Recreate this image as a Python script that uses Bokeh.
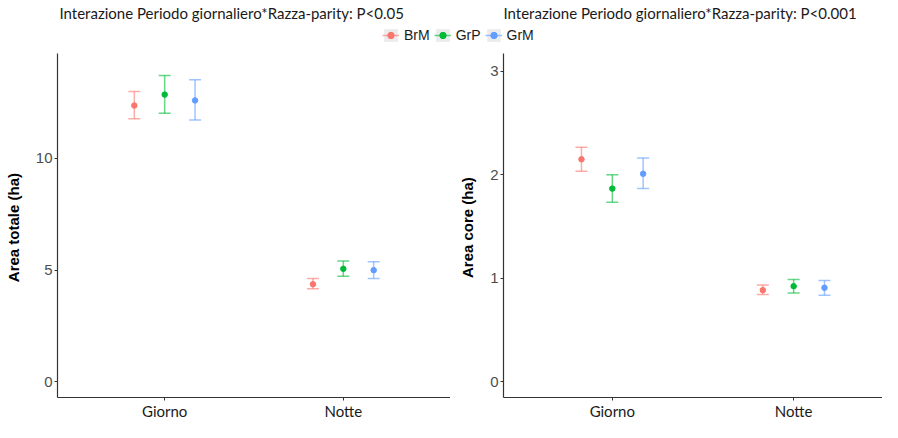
from bokeh.plotting import figure
from bokeh.models import (Range1d, FixedTicker, Whisker, TeeHead, ColumnDataSource,
                          Legend, LegendItem, Label)
from bokeh.transform import dodge
from bokeh.layouts import column, row
from bokeh.embed import file_html
from bokeh.resources import INLINE

# ---- data ----
periods = ["Giorno", "Notte"]
groups = ["BrM", "GrP", "GrM"]
colors = ["#F8766D", "#00BA38", "#619CFF"]
dodge_offsets = [-0.17, 0.0, 0.17]

tot_mean = {"BrM": [12.37, 4.37], "GrP": [12.86, 5.06], "GrM": [12.60, 5.00]}
tot_low = {"BrM": [11.78, 4.17], "GrP": [12.03, 4.73], "GrM": [11.72, 4.63]}
tot_high = {"BrM": [13.00, 4.63], "GrP": [13.72, 5.41], "GrM": [13.52, 5.38]}

core_mean = {"BrM": [2.149, 0.886], "GrP": [1.866, 0.924], "GrM": [2.009, 0.909]}
core_low = {"BrM": [2.034, 0.843], "GrP": [1.735, 0.858], "GrM": [1.866, 0.837]}
core_high = {"BrM": [2.264, 0.936], "GrP": [2.000, 0.989], "GrM": [2.161, 0.980]}

tot_ticks = [0, 5, 10]
core_ticks = [0, 1, 2, 3]

title_left = "Interazione Periodo giornaliero*Razza-parity: P<0.05"
title_right = "Interazione Periodo giornaliero*Razza-parity: P<0.001"
ylabel_left = "Area totale  (ha)"
ylabel_right = "Area core  (ha)"

AXIS_COL = "#333333"
TOP_H = 50
PANEL_H = 372


def panel(width, min_left, x_end, y_start, y_end, yticks, ylabel, mean, low, high):
    p = figure(width=width, height=PANEL_H, output_backend="svg", toolbar_location=None,
               x_range=Range1d(0.4, x_end), y_range=Range1d(y_start, y_end),
               min_border_left=min_left, min_border_right=0,
               min_border_top=3, min_border_bottom=20)
    p.grid.visible = False
    p.outline_line_color = None
    xs = list(range(1, len(periods) + 1))
    for g, c, off in zip(groups, colors, dodge_offsets):
        src = ColumnDataSource(dict(x=xs, mean=mean[g], low=low[g], high=high[g]))
        head_kw = dict(size=12, line_color=c, line_alpha=0.6, line_width=1.5)
        w = Whisker(base=dodge("x", off), upper="high", lower="low", source=src,
                    line_color=c, line_alpha=0.6, line_width=1.5,
                    upper_head=TeeHead(**head_kw), lower_head=TeeHead(**head_kw))
        p.add_layout(w)
        p.scatter(x=dodge("x", off), y="mean", source=src, size=5.5,
                  fill_color=c, line_color=c)
    # x axis
    p.xaxis.ticker = FixedTicker(ticks=xs)
    p.xaxis.major_label_overrides = {x: lab for x, lab in zip(xs, periods)}
    p.xaxis.major_label_text_font = "Lato"
    p.xaxis.major_label_text_font_size = "15px"
    p.xaxis.major_label_text_color = "#1a1a1a"
    p.xaxis.major_label_standoff = 1
    # y axis
    p.yaxis.ticker = FixedTicker(ticks=yticks)
    p.yaxis.major_label_text_font = "Liberation Sans"
    p.yaxis.major_label_text_font_size = "15px"
    p.yaxis.major_label_text_color = "#4d4d4d"
    p.yaxis.major_label_standoff = 2
    p.yaxis.axis_label = ylabel
    p.yaxis.axis_label_text_font = "Liberation Sans"
    p.yaxis.axis_label_text_font_size = "15px"
    p.yaxis.axis_label_text_font_style = "bold"
    p.yaxis.axis_label_text_color = "black"
    p.yaxis.axis_label_standoff = 11
    for ax in (p.xaxis, p.yaxis):
        ax.axis_line_color = AXIS_COL
        ax.axis_line_width = 1.2
        ax.major_tick_line_color = AXIS_COL
        ax.major_tick_out = 3
        ax.major_tick_in = 0
        ax.minor_tick_line_color = None
    return p


left = panel(450, 57, 2.6, -0.7, 14.7, tot_ticks, ylabel_left, tot_mean, tot_low, tot_high)
right = panel(432, 53, 2.49, -0.15, 3.17, core_ticks, ylabel_right, core_mean, core_low, core_high)

# ---- top strip: titles and legend ----
top = figure(width=882, height=TOP_H, x_range=Range1d(0, 882), y_range=Range1d(0, TOP_H),
             output_backend="svg", toolbar_location=None, min_border=0,
             x_axis_location=None, y_axis_location=None)
top.grid.visible = False
top.outline_line_color = None

for txt, xpos in ((title_left, 59), (title_right, 503)):
    top.add_layout(Label(x=xpos, y=TOP_H - 12, text=txt, text_baseline="middle",
                         text_font="Lato", text_font_size="15px", text_color="#1a1a1a"))

nan = float("nan")
items = []
for g, c in zip(groups, colors):
    bg = top.quad(left=[nan], right=[nan], top=[nan], bottom=[nan],
                  fill_color="#ebebeb", line_color=None)
    ln = top.line(x=[nan], y=[nan], line_color=c, line_width=1.5, line_alpha=0.6)
    pt = top.scatter(x=[nan], y=[nan], fill_color=c, line_color=c, size=5)
    items.append(LegendItem(label=g, renderers=[bg, ln, pt]))

leg = Legend(items=items, orientation="horizontal", location=(382, 7),
             glyph_width=17, glyph_height=16, label_height=16, label_standoff=5,
             spacing=4, padding=0, margin=0, border_line_color=None,
             background_fill_alpha=0, label_text_font="Liberation Sans",
             label_text_font_size="14px", label_text_color="#1a1a1a")
top.add_layout(leg)

layout = column(top, row(left, right, spacing=0), spacing=0)

open("out.html", "w").write(file_html(layout, INLINE))
